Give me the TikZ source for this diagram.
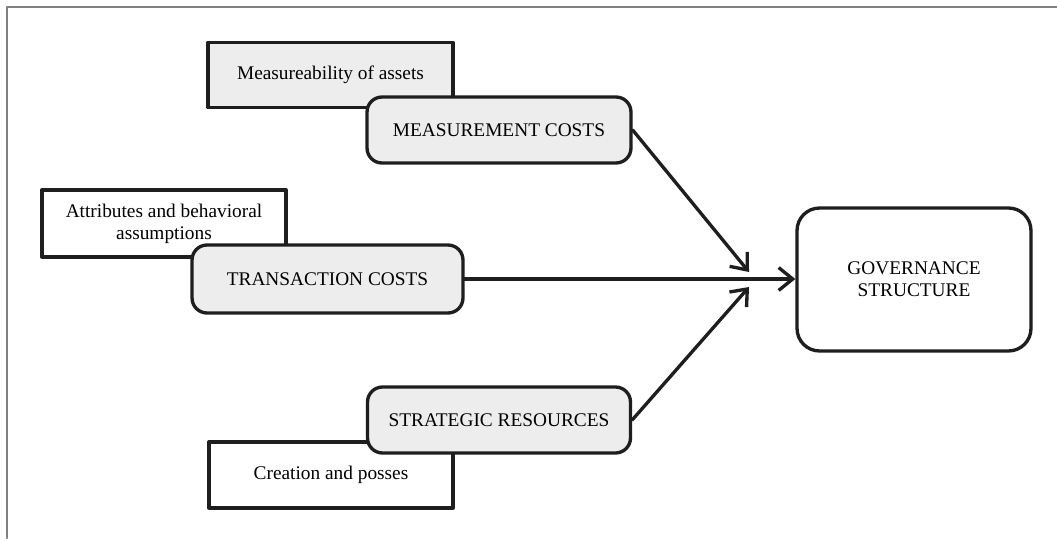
\documentclass[tikz,border=0pt]{standalone}
\usepackage{fontspec}
\setmainfont{Liberation Serif}
\usetikzlibrary{arrows.meta}
\definecolor{boxgray}{RGB}{237,237,237}
\definecolor{linegray}{RGB}{30,30,30}

\begin{document}
\begin{tikzpicture}[line cap=round,line join=round,x=0.02cm,y=-0.02cm,
	factorbox/.style={draw=linegray,line width=1.9pt,inner sep=0pt,align=center,
		font=\fontsize{11}{12.5}\selectfont},
	costbox/.style={factorbox,fill=boxgray,rounded corners=0.3cm},
	govbox/.style={factorbox,fill=white,rounded corners=0.45cm},
	flow/.style={draw=linegray,line width=1.9pt,-{Straight Barb[length=8pt,width=13pt,line width=1.9pt]}}]
		\useasboundingbox (0,0) rectangle (1057,538);
		\draw [line width=1.2pt,color=gray] (7,538)-- (7,7)-- (1057,7);
		% measurement
		\node[factorbox,fill=boxgray,minimum width=4.9cm,minimum height=1.3cm] (meas) at (330.5,75) {Measureability of assets};
		\node[costbox,minimum width=5.28cm,minimum height=1.32cm] (mcost) at (499,130) {MEASUREMENT COSTS};
		% transaction
		\node[factorbox,fill=white,minimum width=4.88cm,minimum height=1.34cm] (attr) at (164,223.5) {Attributes and behavioral\\assumptions};
		\node[costbox,minimum width=5.42cm,minimum height=1.36cm] (tcost) at (327.5,279) {TRANSACTION COSTS};
		% strategic
		\node[factorbox,fill=white,minimum width=4.88cm,minimum height=1.32cm] (creat) at (331,475) {Creation and posses};
		\node[costbox,minimum width=5.26cm,minimum height=1.32cm] (scost) at (499,420) {STRATEGIC RESOURCES};
		% governance
		\node[govbox,minimum width=4.68cm,minimum height=2.86cm] (gov) at (914,279.5) {GOVERNANCE\\STRUCTURE};
		\coordinate (mtip) at (749,272);
		\coordinate (stip) at (749,287);
		\draw [flow] (mcost.east) -- (mtip);
		\draw [flow] (scost.east) -- (stip);
		\draw [flow] (tcost.east) -- (tcost.east -| gov.west);
	\end{tikzpicture}
\end{document}
